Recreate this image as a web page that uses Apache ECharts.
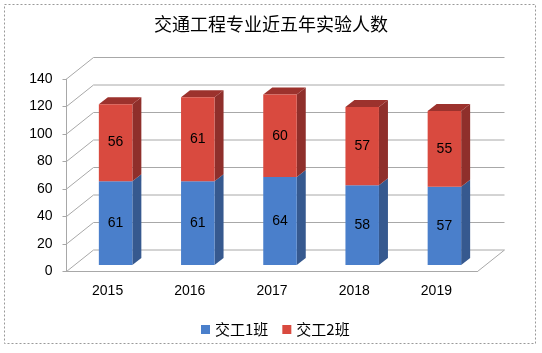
<!DOCTYPE html>
<html>
<head>
<meta charset="utf-8">
<script src="https://cdn.jsdelivr.net/npm/echarts@6/dist/echarts.min.js"></script>
<style>
  html, body { margin: 0; padding: 0; background: #fff; }
  #chart { width: 542px; height: 353px; }
</style>
</head>
<body>
<div id="chart"></div>
<script>
// data
const years = ['2015', '2016', '2017', '2018', '2019']
const class1 = [61, 61, 64, 58, 57]
const class2 = [56, 61, 60, 57, 55]
const yTicks = [0, 20, 40, 60, 80, 100, 120, 140]
const seriesNames = ['交工1班', '交工2班']

// pseudo 3d offsets (px)
const WALL_DX = 27, WALL_DY = -21.5
const BAR_DX = 9, BAR_DY = -7
const BAR_W = 33.5

const font = '"Liberation Sans", Arial, sans-serif'
const cjk = '"Noto Sans CJK SC", sans-serif'
const colors = {
  blue: '#4a7fcb', blueSide: '#36598f',
  red: '#d94a3f', redSide: '#8f2f2b', redTop: '#9c322d',
  grid: '#a8a8a8',
}

// side/top faces: [category, base, top, segment]
const faceData = []
years.forEach((y, i) => {
  faceData.push([i, 0, class1[i], 0])
  faceData.push([i, class1[i], class1[i] + class2[i], 1])
})

function renderWalls(params, api) {
  const cs = params.coordSys
  const x0 = cs.x, x1 = cs.x + cs.width
  const children = []
  const line = (a, b) => children.push({
    type: 'line',
    shape: { x1: a[0], y1: a[1], x2: b[0], y2: b[1] },
    style: { stroke: colors.grid, lineWidth: 1 },
  })
  yTicks.forEach(v => {
    const y = api.coord([0, v])[1]
    line([x0 + WALL_DX, y + WALL_DY], [x1 + WALL_DX, y + WALL_DY])
    line([x0, y], [x0 + WALL_DX, y + WALL_DY])
  })
  const yb = api.coord([0, 0])[1]
  line([x1, yb], [x1 + WALL_DX, yb + WALL_DY])
  return { type: 'group', children }
}

function renderFaces(params, api) {
  const b = api.coord([api.value(0), api.value(1)])
  const t = api.coord([api.value(0), api.value(2)])
  const seg = api.value(3)
  const xl = b[0] - BAR_W / 2, xr = b[0] + BAR_W / 2
  const children = [{
    type: 'polygon',
    shape: { points: [[xr, b[1]], [xr, t[1]], [xr + BAR_DX, t[1] + BAR_DY], [xr + BAR_DX, b[1] + BAR_DY]] },
    style: { fill: seg === 0 ? colors.blueSide : colors.redSide },
  }]
  if (seg === 1) {
    children.push({
      type: 'polygon',
      shape: { points: [[xl, t[1]], [xr, t[1]], [xr + BAR_DX, t[1] + BAR_DY], [xl + BAR_DX, t[1] + BAR_DY]] },
      style: { fill: colors.redTop },
    })
  }
  return { type: 'group', children }
}

const chart = echarts.init(document.getElementById('chart'))
chart.setOption({
  animation: false,
  title: {
    text: '交通工程专业近五年实验人数',
    left: 'center', top: 15, padding: 0,
    textStyle: { fontFamily: cjk, fontSize: 18, fontWeight: 'normal', color: '#000' },
  },
  legend: {
    data: seriesNames,
    left: 196, top: 317,
    icon: 'rect', itemWidth: 9, itemHeight: 9, itemGap: 14,
    textStyle: { fontFamily: cjk, fontSize: 15, color: '#000' },
  },
  graphic: [{
    type: 'rect',
    shape: { x: 4.5, y: 4.5, width: 531, height: 339 },
    style: { fill: 'none', stroke: '#999', lineDash: [2, 2] },
    silent: true,
  }],
  grid: [
    // bar plane
    { left: 74.5, top: 72.5, width: 411, height: 192.5 },
    // front plane (axes + labels)
    { left: 66.5, top: 79, width: 411, height: 192.5 },
  ],
  xAxis: [
    { type: 'category', gridIndex: 0, data: years, show: false },
    {
      type: 'category', gridIndex: 1, data: years,
      axisLine: { lineStyle: { color: colors.grid } },
      axisTick: { length: 4, lineStyle: { color: colors.grid } },
      axisLabel: { color: '#000', fontFamily: font, fontSize: 14, margin: 13 },
    },
  ],
  yAxis: [
    { type: 'value', gridIndex: 0, min: 0, max: 140, interval: 20, show: false },
    {
      type: 'value', gridIndex: 1, min: 0, max: 140, interval: 20,
      axisLine: { show: true, lineStyle: { color: colors.grid } },
      axisTick: { show: true, length: 4, lineStyle: { color: colors.grid } },
      axisLabel: { color: '#000', fontFamily: font, fontSize: 14, margin: 14 },
      splitLine: { show: false },
    },
  ],
  series: [
    {
      type: 'custom', xAxisIndex: 1, yAxisIndex: 1, z: 1, silent: true,
      data: [[0, 0]], renderItem: renderWalls,
    },
    {
      type: 'custom', xAxisIndex: 0, yAxisIndex: 0, z: 2, silent: true,
      data: faceData, renderItem: renderFaces,
    },
    {
      name: seriesNames[0], type: 'bar', stack: 'total', barWidth: BAR_W, z: 3,
      xAxisIndex: 0, yAxisIndex: 0, data: class1,
      itemStyle: { color: colors.blue },
      label: { show: true, position: 'inside', color: '#000', fontFamily: font, fontSize: 14 },
    },
    {
      name: seriesNames[1], type: 'bar', stack: 'total', barWidth: BAR_W, z: 3,
      xAxisIndex: 0, yAxisIndex: 0, data: class2,
      itemStyle: { color: colors.red },
      label: { show: true, position: 'inside', color: '#000', fontFamily: font, fontSize: 14 },
    },
  ],
})
</script>
</body>
</html>
